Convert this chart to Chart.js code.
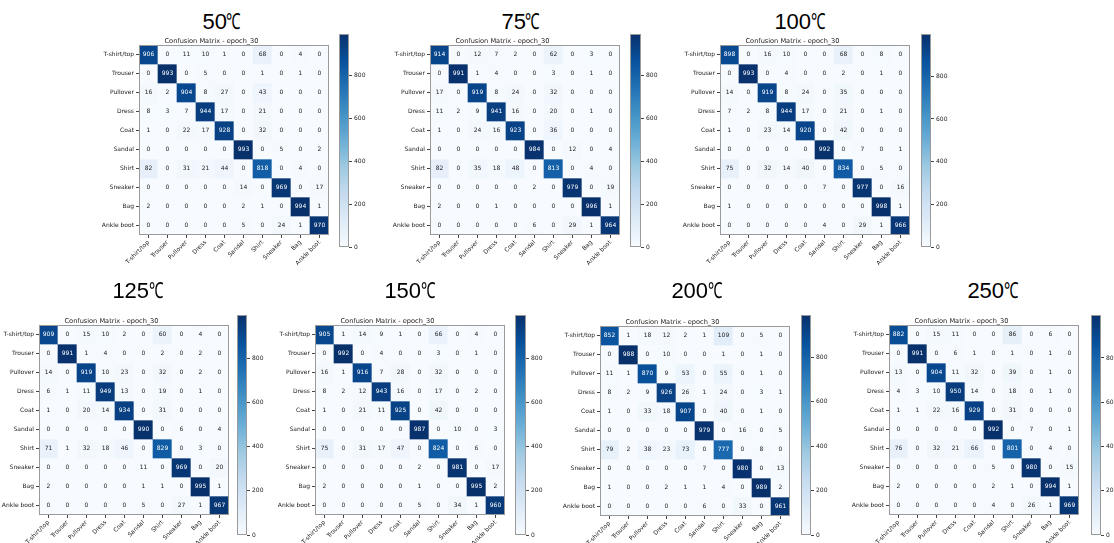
<!DOCTYPE html>
<html>
<head>
<meta charset="utf-8">
<script src="https://cdn.jsdelivr.net/npm/chart.js@4/dist/chart.umd.min.js"></script>
<style>
html,body{margin:0;padding:0;background:#fff;}
body{width:1114px;height:543px;position:relative;overflow:hidden;font-family:"Liberation Sans",Arial,sans-serif;}
.temp{position:absolute;font-size:22px;color:#000;transform:translate(-50%,-50%);white-space:nowrap;}
.deg{display:inline-block;transform:scaleX(0.66);transform-origin:0 50%;margin-right:-0.34em;}
canvas{position:absolute;}
</style>
</head>
<body>
<script>
// Fashion-MNIST classes
const classes = ['T-shirt/top','Trouser','Pullover','Dress','Coat','Sandal','Shirt','Sneaker','Bag','Ankle boot'];
const temps = ['50','75','100','125','150','200','250'];
const unit = '℃';
const plotTitle = 'Confusion Matrix - epoch_30';
const cbarTicks = [0,200,400,600,800];

const m50 = [
  [906,0,11,10,1,0,68,0,4,0],
  [0,993,0,5,0,0,1,0,1,0],
  [16,2,904,8,27,0,43,0,0,0],
  [8,3,7,944,17,0,21,0,0,0],
  [1,0,22,17,928,0,32,0,0,0],
  [0,0,0,0,0,993,0,5,0,2],
  [82,0,31,21,44,0,818,0,4,0],
  [0,0,0,0,0,14,0,969,0,17],
  [2,0,0,0,0,2,1,0,994,1],
  [0,0,0,0,0,5,0,24,1,970]
];
const m75 = [
  [914,0,12,7,2,0,62,0,3,0],
  [0,991,1,4,0,0,3,0,1,0],
  [17,0,919,8,24,0,32,0,0,0],
  [11,2,9,941,16,0,20,0,1,0],
  [1,0,24,16,923,0,36,0,0,0],
  [0,0,0,0,0,984,0,12,0,4],
  [82,0,35,18,48,0,813,0,4,0],
  [0,0,0,0,0,2,0,979,0,19],
  [2,0,0,1,0,0,0,0,996,1],
  [0,0,0,0,0,6,0,29,1,964]
];
const m100 = [
  [898,0,16,10,0,0,68,0,8,0],
  [0,993,0,4,0,0,2,0,1,0],
  [14,0,919,8,24,0,35,0,0,0],
  [7,2,8,944,17,0,21,0,1,0],
  [1,0,23,14,920,0,42,0,0,0],
  [0,0,0,0,0,992,0,7,0,1],
  [75,0,32,14,40,0,834,0,5,0],
  [0,0,0,0,0,7,0,977,0,16],
  [1,0,0,0,0,0,0,0,998,1],
  [0,0,0,0,0,4,0,29,1,966]
];
const m125 = [
  [909,0,15,10,2,0,60,0,4,0],
  [0,991,1,4,0,0,2,0,2,0],
  [14,0,919,10,23,0,32,0,2,0],
  [6,1,11,949,13,0,19,0,1,0],
  [1,0,20,14,934,0,31,0,0,0],
  [0,0,0,0,0,990,0,6,0,4],
  [71,1,32,18,46,0,829,0,3,0],
  [0,0,0,0,0,11,0,969,0,20],
  [2,0,0,0,0,1,1,0,995,1],
  [0,0,0,0,0,5,0,27,1,967]
];
const m150 = [
  [905,1,14,9,1,0,66,0,4,0],
  [0,992,0,4,0,0,3,0,1,0],
  [16,1,916,7,28,0,32,0,0,0],
  [8,2,12,943,16,0,17,0,2,0],
  [1,0,21,11,925,0,42,0,0,0],
  [0,0,0,0,0,987,0,10,0,3],
  [75,0,31,17,47,0,824,0,6,0],
  [0,0,0,0,0,2,0,981,0,17],
  [2,0,0,0,0,1,0,0,995,2],
  [0,0,0,0,0,5,0,34,1,960]
];
const m200 = [
  [852,1,18,12,2,1,109,0,5,0],
  [0,988,0,10,0,0,1,0,1,0],
  [11,1,870,9,53,0,55,0,1,0],
  [8,2,9,926,26,1,24,0,3,1],
  [1,0,33,18,907,0,40,0,1,0],
  [0,0,0,0,0,979,0,16,0,5],
  [79,2,38,23,73,0,777,0,8,0],
  [0,0,0,0,0,7,0,980,0,13],
  [1,0,0,2,1,1,4,0,989,2],
  [0,0,0,0,0,6,0,33,0,961]
];
const m250 = [
  [882,0,15,11,0,0,86,0,6,0],
  [0,991,0,6,1,0,1,0,1,0],
  [13,0,904,11,32,0,39,0,1,0],
  [4,3,10,950,14,0,18,0,1,0],
  [1,1,22,16,929,0,31,0,0,0],
  [0,0,0,0,0,992,0,7,0,1],
  [76,0,32,21,66,0,801,0,4,0],
  [0,0,0,0,0,5,0,980,0,15],
  [2,0,0,0,0,2,1,0,994,1],
  [0,0,0,0,0,4,0,26,1,969]
];
const matrices = [m50,m75,m100,m125,m150,m200,m250];

// page layout: plot area left/top, colorbar left/top/width/height, big label centre
const layout = [
  {ax:139, ay:45,  cx:339,  cy:34,  cw:10, ch:213, tx:222, ty:20},
  {ax:430, ay:45,  cx:630,  cy:34,  cw:11, ch:213, tx:521, ty:20},
  {ax:720, ay:45,  cx:921,  cy:34,  cw:10, ch:213, tx:800, ty:20},
  {ax:39,  ay:325, cx:237,  cy:315, cw:10, ch:220, tx:138, ty:289},
  {ax:315, ay:325, cx:515,  cy:315, cw:11, ch:220, tx:410, ty:289},
  {ax:600, ay:326, cx:801,  cy:315, cw:10, ch:220, tx:697, ty:289},
  {ax:889, ay:325, cx:1091, cy:315, cw:10, ch:220, tx:993, ty:289}
];
const SIZE = 190, LEFT = 45, TOP = 12, BOTTOM = 45, RIGHT = 4;
const FONT = 'DejaVu Sans';

// matplotlib "Blues"
const blues = [[247,251,255],[222,235,247],[198,219,239],[158,202,225],[107,174,214],[66,146,198],[33,113,181],[8,81,156],[8,48,107]];
function blue(t){
  t = Math.max(0, Math.min(1, t));
  const p = t*8, i = Math.min(7, Math.floor(p)), f = p-i, a = blues[i], b = blues[i+1];
  return 'rgb(' + a.map((v,k)=>Math.round(v+(b[k]-v)*f)).join(',') + ')';
}

const frame = {
  id:'frame',
  afterDraw(chart){
    const a = chart.chartArea, c = chart.ctx;
    c.save(); c.strokeStyle = '#9a9a9a'; c.lineWidth = 1;
    c.strokeRect(Math.round(a.left)+0.5, Math.round(a.top)+0.5, Math.round(a.right-a.left)-1, Math.round(a.bottom-a.top)-1);
    c.restore();
  }
};
const cellText = {
  id:'cellText',
  afterDatasetsDraw(chart){
    const c = chart.ctx, max = chart.options.plugins.cellText.max;
    c.save(); c.font = '6px "' + FONT + '"'; c.textAlign = 'center'; c.textBaseline = 'middle';
    chart.data.datasets.forEach((ds, r) => {
      chart.getDatasetMeta(r).data.forEach((el, k) => {
        const v = ds.counts[k], pt = el.getCenterPoint();
        c.fillStyle = v > max/2 ? '#fff' : '#222';
        c.fillText(String(v), pt.x, pt.y);
      });
    });
    c.restore();
  }
};

function addCanvas(left, top, w, h){
  const cv = document.createElement('canvas');
  cv.width = w; cv.height = h;
  cv.style.left = left+'px'; cv.style.top = top+'px'; cv.style.width = w+'px'; cv.style.height = h+'px';
  document.body.appendChild(cv);
  return cv;
}

function matrixChart(m, L){
  const max = Math.max(...m.flat());
  const cv = addCanvas(L.ax-LEFT, L.ay-TOP, LEFT+SIZE+RIGHT, TOP+SIZE+BOTTOM);
  new Chart(cv, {
    type:'bar',
    data:{
      labels:classes,
      datasets:m.map((row, r) => ({
        data:row.map(() => [r, r+1]),
        counts:row,
        backgroundColor:row.map(v => blue(v/max)),
        borderWidth:0, grouped:false, barPercentage:1, categoryPercentage:1
      }))
    },
    options:{
      responsive:false, animation:false, events:[],
      layout:{padding:{left:0, right:RIGHT, top:0, bottom:0}},
      plugins:{
        legend:{display:false}, tooltip:{enabled:false},
        title:{display:true, text:plotTitle, color:'#222', font:{size:6.6, family:FONT, weight:'normal', lineHeight:1.2}, padding:{top:4, bottom:0.1}},
        cellText:{max}
      },
      scales:{
        x:{
          grid:{drawOnChartArea:false, drawTicks:true, tickLength:3, offset:false, color:'#444'},
          border:{display:false},
          ticks:{autoSkip:false, minRotation:45, maxRotation:45, color:'#222', padding:1, font:{size:6, family:FONT}},
          afterFit(s){ s.height = BOTTOM; s.paddingLeft = 0; s.paddingRight = 0; }
        },
        y:{
          type:'linear', min:0, max:10, reverse:true,
          afterBuildTicks(s){ s.ticks = classes.map((c, i) => ({value:i+0.5})); },
          grid:{drawOnChartArea:false, drawTicks:true, tickLength:3, color:'#444'},
          border:{display:false},
          ticks:{autoSkip:false, color:'#222', padding:2, font:{size:6, family:FONT}, callback:(v, i) => classes[i]},
          afterFit(s){ s.width = LEFT; s.paddingTop = 0; s.paddingBottom = 0; }
        }
      }
    },
    plugins:[cellText, frame]
  });
  return max;
}

function colorbar(max, L){
  const PAD = 6, LAB = 30;
  const cv = addCanvas(L.cx, L.cy-PAD, L.cw+LAB, L.ch+2*PAD);
  new Chart(cv, {
    type:'bar',
    data:{labels:[''], datasets:[{
      data:[[0, max]],
      backgroundColor(ctx){
        const a = ctx.chart.chartArea;
        if (!a) return blue(0.5);
        const g = ctx.chart.ctx.createLinearGradient(0, a.bottom, 0, a.top);
        blues.forEach((c, i) => g.addColorStop(i/8, 'rgb(' + c.join(',') + ')'));
        return g;
      },
      borderWidth:0, barPercentage:1, categoryPercentage:1
    }]},
    options:{
      responsive:false, animation:false, events:[],
      layout:{padding:{top:PAD, bottom:PAD, left:0, right:0}},
      plugins:{legend:{display:false}, tooltip:{enabled:false}},
      scales:{
        x:{display:false},
        y:{
          position:'right', min:0, max:max,
          afterBuildTicks(s){ s.ticks = cbarTicks.map(v => ({value:v})); },
          grid:{drawOnChartArea:false, drawTicks:true, tickLength:3, color:'#444'},
          border:{display:false},
          ticks:{color:'#222', padding:2, font:{size:6, family:FONT}},
          afterFit(s){ s.width = LAB; s.paddingTop = 0; s.paddingBottom = 0; }
        }
      }
    },
    plugins:[frame]
  });
}

matrices.forEach((m, i) => {
  const L = layout[i];
  const t = document.createElement('div');
  t.className = 'temp';
  t.textContent = temps[i];
  const d = document.createElement('span');
  d.className = 'deg'; d.textContent = unit;
  t.appendChild(d);
  t.style.left = L.tx+'px'; t.style.top = L.ty+'px';
  document.body.appendChild(t);
  const max = matrixChart(m, L);
  colorbar(max, L);
});
</script>
</body>
</html>
